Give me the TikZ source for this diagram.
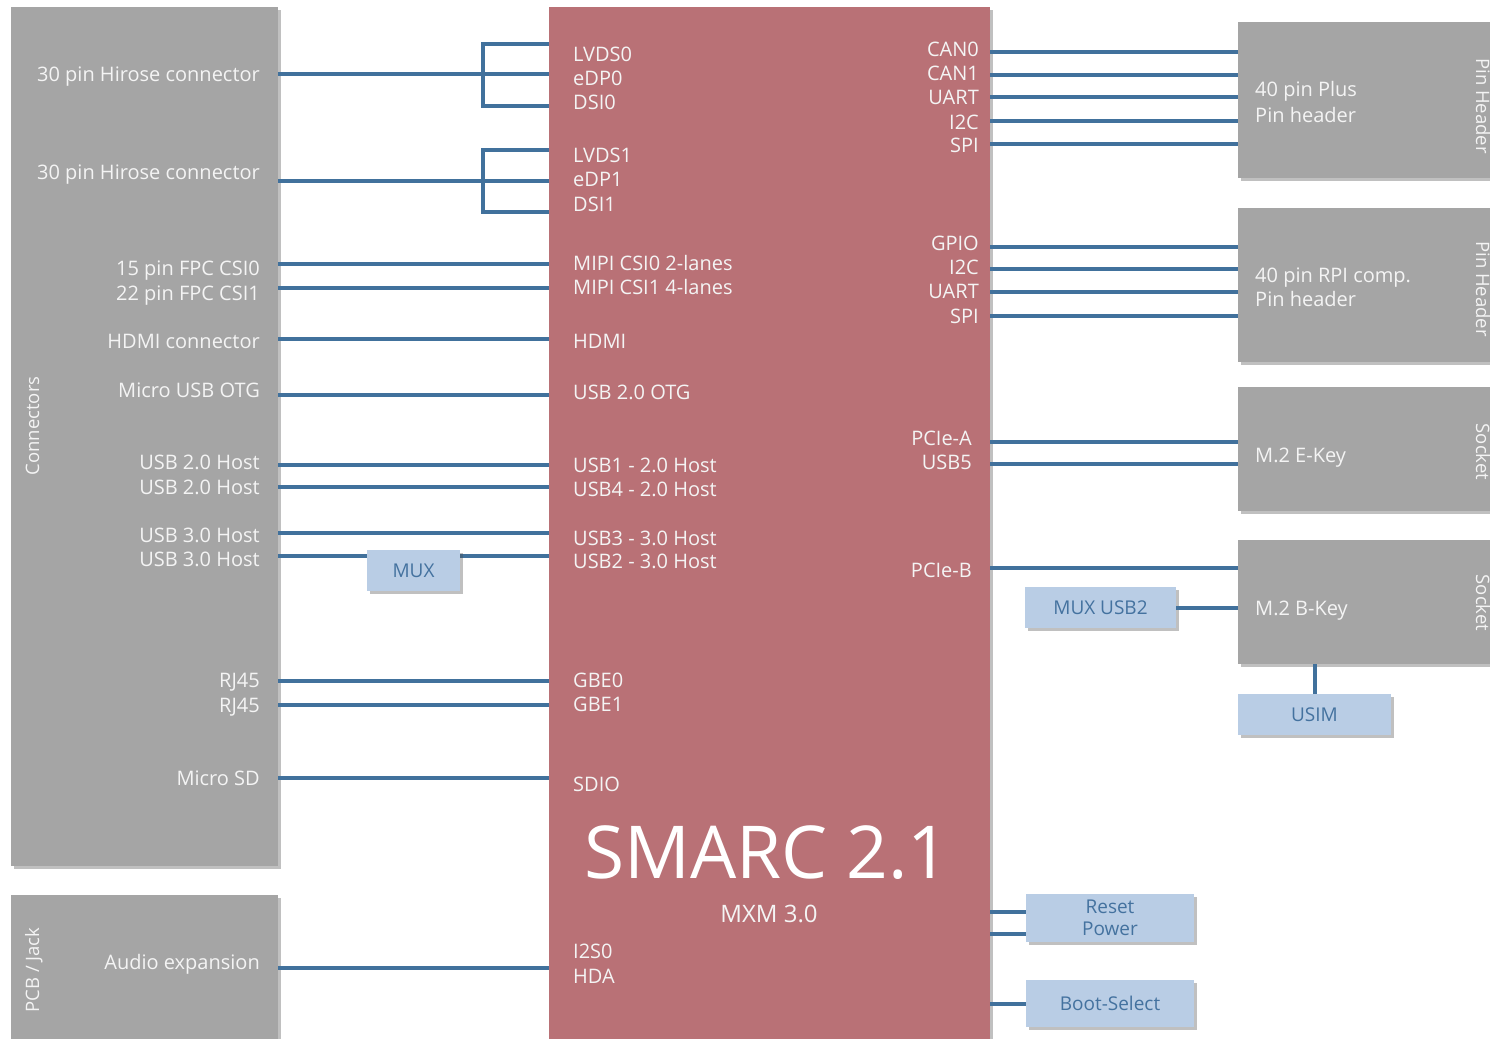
\documentclass[tikz,border=0pt]{standalone}
\usepackage{fontspec}
\setmainfont{Open Sans}
\usetikzlibrary{shadows}
\definecolor{boxgray}{HTML}{A5A5A5}
\definecolor{smarcpink}{HTML}{B97176}
\definecolor{wireblue}{HTML}{41719C}
\definecolor{lightblue}{HTML}{B9CDE5}
\definecolor{bluetext}{HTML}{44729F}
\definecolor{offwhite}{HTML}{F4F4F4}
\begin{document}
\begin{tikzpicture}[x=1pt,y=-1pt,
  shade/.style={drop shadow={shadow xshift=3pt,shadow yshift=-3pt,opacity=0.35,fill=black!70}},
  block/.style={rectangle,inner sep=0pt,outer sep=0pt,anchor=north west,shade},
  graybox/.style={block,fill=boxgray},
  pinkbox/.style={block,fill=smarcpink},
  bluebox/.style={block,fill=lightblue,text=bluetext,font=\fontsize{19}{22}\selectfont,align=center},
  wire/.style={draw=wireblue,line width=4pt},
  lbl/.style={text=offwhite,font=\fontsize{20}{24}\selectfont,inner sep=0pt},
  lblr/.style={lbl,anchor=base east},
  lbll/.style={lbl,anchor=base west},
  rotlbl/.style={text=offwhite,font=\fontsize{18.5}{22}\selectfont,inner sep=0pt,anchor=base},
]
\useasboundingbox (0,0) rectangle (1490,1038);
\fill[white] (0,0) rectangle (1490,1038);

% main boxes
\node[graybox,minimum width=267pt,minimum height=859pt] (conn) at (11,7) {};
\node[graybox,minimum width=267pt,minimum height=150pt] (pcb) at (11,895) {};
\node[pinkbox,minimum width=441pt,minimum height=1040pt] (smarc) at (549,7) {};
\node[graybox,minimum width=262pt,minimum height=156pt] (plus) at (1238,22) {};
\node[graybox,minimum width=262pt,minimum height=154pt] (rpi) at (1238,208) {};
\node[graybox,minimum width=262pt,minimum height=124pt] (ekey) at (1238,387) {};
\node[graybox,minimum width=262pt,minimum height=124pt] (bkey) at (1238,540) {};

% rotated labels
\node[rotlbl,rotate=90] (connl) at (39,426) {Connectors};
\node[rotlbl,rotate=90] (pcbl) at (39,970) {PCB / Jack};
\node[rotlbl,rotate=-90] (ph1) at (1476,106) {Pin Header};
\node[rotlbl,rotate=-90] (ph2) at (1476,289) {Pin Header};
\node[rotlbl,rotate=-90] (sk1) at (1476,452) {Socket};
\node[rotlbl,rotate=-90] (sk2) at (1476,603) {Socket};

% left connector labels
\node[lblr] (hir1) at (260,82) {30 pin Hirose connector};
\node[lblr] (hir2) at (260,179) {30 pin Hirose connector};
\node[lblr] (fpc0) at (260,275) {15 pin FPC CSI0};
\node[lblr] (fpc1) at (260,300) {22 pin FPC CSI1};
\node[lblr] (hdmic) at (260,348) {HDMI connector};
\node[lblr] (musb) at (260,397) {Micro USB OTG};
\node[lblr] (u2a) at (260,469) {USB 2.0 Host};
\node[lblr] (u2b) at (260,494) {USB 2.0 Host};
\node[lblr] (u3a) at (260,542) {USB 3.0 Host};
\node[lblr] (u3b) at (260,566) {USB 3.0 Host};
\node[lblr] (rj1) at (260,687) {RJ45};
\node[lblr] (rj2) at (260,712) {RJ45};
\node[lblr] (msd) at (260,785) {Micro SD};
\node[lblr] (audio) at (260,969) {Audio expansion};

% SMARC left labels
\node[lbll] (lvds0) at (573,62) {LVDS0};
\node[lbll] (edp0) at (573,86) {eDP0};
\node[lbll] (dsi0) at (573,110) {DSI0};
\node[lbll] (lvds1) at (573,162) {LVDS1};
\node[lbll] (edp1) at (573,186) {eDP1};
\node[lbll] (dsi1) at (573,211) {DSI1};
\node[lbll] (csi0) at (573,270) {MIPI CSI0 2-lanes};
\node[lbll] (csi1) at (573,294) {MIPI CSI1 4-lanes};
\node[lbll] (hdmi) at (573,348) {HDMI};
\node[lbll] (otg) at (573,399) {USB 2.0 OTG};
\node[lbll] (usb1) at (573,472) {USB1 - 2.0 Host};
\node[lbll] (usb4) at (573,496) {USB4 - 2.0 Host};
\node[lbll] (usb3) at (573,545) {USB3 - 3.0 Host};
\node[lbll] (usb2) at (573,568) {USB2 - 3.0 Host};
\node[lbll] (gbe0) at (573,687) {GBE0};
\node[lbll] (gbe1) at (573,711) {GBE1};
\node[lbll] (sdio) at (573,791) {SDIO};
\node[lbll] (i2s) at (573,958) {I2S0};
\node[lbll] (hda) at (573,983) {HDA};

% SMARC right labels
\node[lblr] (can0) at (979,57) {CAN0};
\node[lblr] (can1) at (979,81) {CAN1};
\node[lblr] (uarta) at (979,105) {UART};
\node[lblr] (i2ca) at (979,129) {I2C};
\node[lblr] (spia) at (979,153) {SPI};
\node[lblr] (gpio) at (979,250) {GPIO};
\node[lblr] (i2cb) at (979,274) {I2C};
\node[lblr] (uartb) at (979,298) {UART};
\node[lblr] (spib) at (979,323) {SPI};
\node[lblr] (pcia) at (972,445) {PCIe-A};
\node[lblr] (usb5) at (972,469) {USB5};
\node[lblr] (pcib) at (972,577) {PCIe-B};

% title
\node[text=white,font=\fontsize{73}{80}\selectfont,inner sep=0pt,anchor=base] (title) at (767,878) {SMARC 2.1};
\node[text=offwhite,font=\fontsize{24}{28}\selectfont,inner sep=0pt,anchor=base] (mxm) at (769,922) {MXM 3.0};

% right box labels
\node[lbll] (plusa) at (1255,97) {40 pin Plus};
\node[lbll] (plusb) at (1255,122) {Pin header};
\node[lbll] (rpia) at (1255,282) {40 pin RPI comp.};
\node[lbll] (rpib) at (1255,306) {Pin header};
\node[lbll] (ekeyl) at (1255,462) {M.2 E-Key};
\node[lbll] (bkeyl) at (1255,615) {M.2 B-Key};

% left wires with brackets
\coordinate (b1t) at (483,44);
\coordinate (b1m) at (483,74);
\coordinate (b1b) at (483,106);
\draw[wire] (conn.east |- b1m) -- (smarc.west |- b1m);
\draw[wire] (smarc.west |- b1t) -- (b1t) -- (b1b) -- (smarc.west |- b1b);
\coordinate (b2t) at (483,150);
\coordinate (b2m) at (483,181);
\coordinate (b2b) at (483,212);
\draw[wire] (conn.east |- b2m) -- (smarc.west |- b2m);
\draw[wire] (smarc.west |- b2t) -- (b2t) -- (b2b) -- (smarc.west |- b2b);

\foreach \yy in {264,288,339,395,465,487,533,556,681,705,778}
  \draw[wire] (conn.east |- 0,\yy) -- (smarc.west |- 0,\yy);
\draw[wire] (pcb.east |- 0,968) -- (smarc.west |- 0,968);

% right wires
\foreach \yy in {52,75,97,121,144}
  \draw[wire] (smarc.east |- 0,\yy) -- (plus.west |- 0,\yy);
\foreach \yy in {247,269,292,316}
  \draw[wire] (smarc.east |- 0,\yy) -- (rpi.west |- 0,\yy);
\foreach \yy in {442,464}
  \draw[wire] (smarc.east |- 0,\yy) -- (ekey.west |- 0,\yy);
\draw[wire] (smarc.east |- 0,568) -- (bkey.west |- 0,568);

% small blue boxes
\node[bluebox,minimum width=93pt,minimum height=41pt] (mux) at (367,550) {MUX};
\node[bluebox,minimum width=151pt,minimum height=41pt] (muxusb) at (1025,587) {MUX USB2};
\node[bluebox,minimum width=153pt,minimum height=41pt] (usim) at (1238,694) {USIM};
\node[bluebox,minimum width=168pt,minimum height=48pt] (reset) at (1026,894) {Reset\\Power};
\node[bluebox,minimum width=168pt,minimum height=47pt] (boot) at (1026,980) {Boot-Select};

\draw[wire] (muxusb.east) -- (bkey.west |- muxusb.east);
\draw[wire] (usim.north) -- (bkey.south -| usim.north);
\draw[wire] (smarc.east |- 0,912) -- (reset.west |- 0,912);
\draw[wire] (smarc.east |- 0,934) -- (reset.west |- 0,934);
\draw[wire] (smarc.east |- boot.west) -- (boot.west);
\end{tikzpicture}
\end{document}
